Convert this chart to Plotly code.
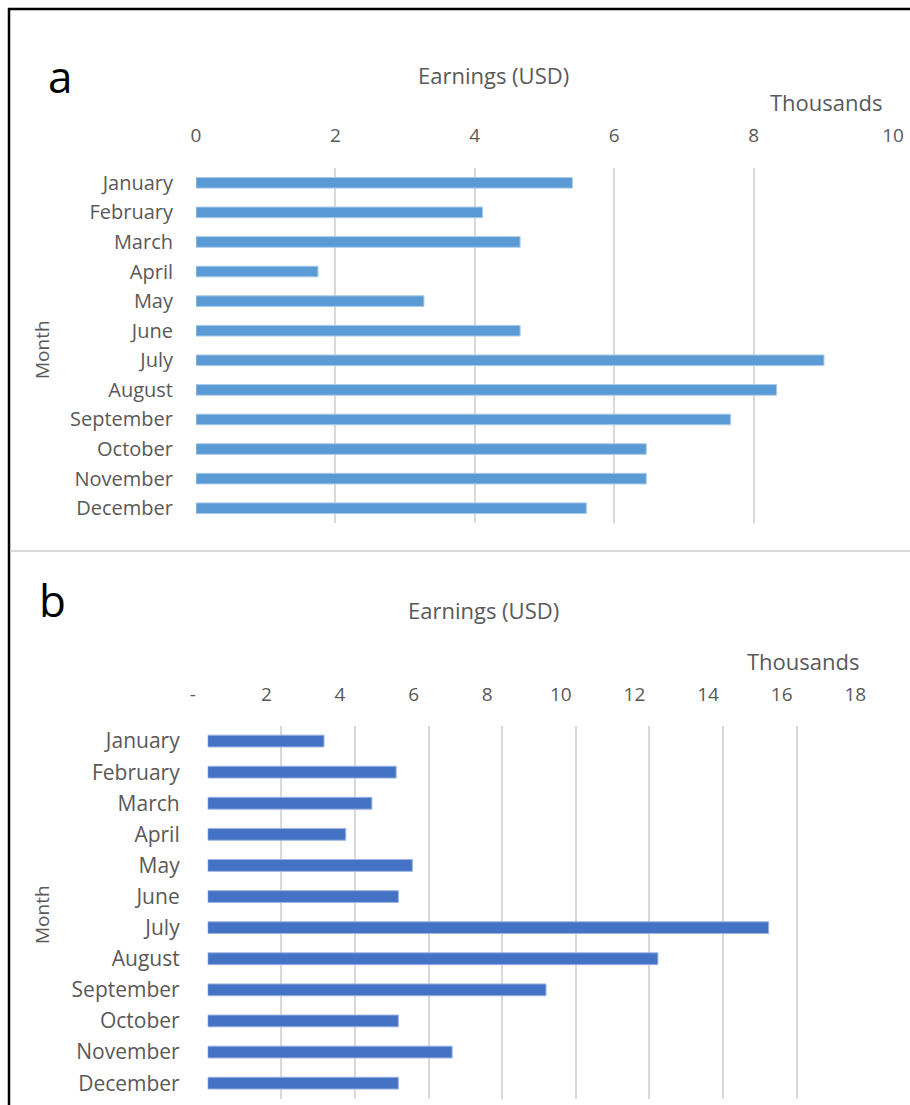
import plotly.graph_objects as go

# Monthly earnings, thousands of USD
months = ["January", "February", "March", "April", "May", "June",
          "July", "August", "September", "October", "November", "December"]
earnings_a = [5.40, 4.11, 4.65, 1.75, 3.27, 4.65, 9.01, 8.33, 7.67, 6.46, 6.46, 5.60]
earnings_b = [3.16, 5.12, 4.46, 3.75, 5.56, 5.18, 15.24, 12.23, 9.19, 5.18, 6.64, 5.18]

ticks_a = [0, 2, 4, 6, 8, 10]
ticks_b = [0, 2, 4, 6, 8, 10, 12, 14, 16, 18]
ticklabels_b = ["-", "2", "4", "6", "8", "10", "12", "14", "16", "18"]

W, H = 910, 1105
FONT = "Open Sans"
TXT = "#595959"
GRID = "#D9D9D9"


def px_x(p):
    return p / W


def px_y(p):
    return 1 - p / H


fig = go.Figure()

fig.add_trace(go.Bar(
    x=earnings_a, y=months, orientation="h",
    marker=dict(color="#5B9BD5", line=dict(color="#A9CBEA", width=1)),
    xaxis="x", yaxis="y", showlegend=False, width=0.36,
))
fig.add_trace(go.Bar(
    x=earnings_b, y=months, orientation="h",
    marker=dict(color="#4472C4", line=dict(color="#9DB5E2", width=1)),
    xaxis="x2", yaxis="y2", showlegend=False, width=0.38,
))

tick_font = dict(family=FONT, size=19, color=TXT)
month_font_a = dict(family=FONT, size=20, color=TXT)
month_font_b = dict(family=FONT, size=21, color=TXT)

fig.update_layout(
    width=W, height=H,
    margin=dict(l=0, r=0, t=0, b=0, autoexpand=False),
    paper_bgcolor="white", plot_bgcolor="white",
    font=dict(family=FONT, color=TXT),
    xaxis=dict(
        domain=[px_x(196), px_x(893)], range=[0, 10], side="top",
        anchor="y", tickvals=ticks_a, showgrid=True, gridcolor=GRID, gridwidth=1.5,
        zeroline=False, showline=False, ticks="", tickfont=tick_font,
        ticklabelstandoff=21, automargin=False,
    ),
    yaxis=dict(
        domain=[px_y(523), px_y(168)], anchor="x",
        categoryorder="array", categoryarray=months, autorange="reversed",
        showgrid=False, zeroline=False, showline=False, ticks="",
        tickfont=month_font_a, ticklabelstandoff=22, automargin=False,
    ),
    xaxis2=dict(
        domain=[px_x(207.7), px_x(870.3)], range=[0, 18], side="top",
        anchor="y2", tickvals=ticks_b, ticktext=ticklabels_b,
        showgrid=True, gridcolor=GRID, gridwidth=1.5,
        zeroline=False, showline=False, ticks="", tickfont=tick_font,
        ticklabelstandoff=20, ticklabelshift=-15, automargin=False,
    ),
    yaxis2=dict(
        domain=[px_y(1098.7), px_y(725.5)], anchor="x2",
        categoryorder="array", categoryarray=months, autorange="reversed",
        showgrid=False, zeroline=False, showline=False, ticks="",
        tickfont=month_font_b, ticklabelstandoff=27, automargin=False,
    ),
)

ann = []


def label(text, x, y, size, color=TXT, angle=0):
    ann.append(dict(text=text, x=px_x(x), y=px_y(y), xref="paper", yref="paper",
                    showarrow=False, xanchor="center", yanchor="middle",
                    textangle=angle, font=dict(family=FONT, size=size, color=color)))


# panel letters
label("a", 60, 76, 44, "#000000")
label("b", 52, 600, 44, "#000000")
# axis titles
label("Earnings (USD)", 494, 75, 22)
label("Thousands", 826, 102, 22)
label("Month", 42, 350, 19, angle=-90)
label("Earnings (USD)", 483, 610, 22)
label("Thousands", 803, 661, 22)
label("Month", 42, 915, 19, angle=-90)
fig.update_layout(annotations=ann)

# frame and divider
fig.add_shape(type="line", xref="paper", yref="paper",
              x0=px_x(8), x1=1, y0=px_y(9), y1=px_y(9),
              line=dict(color="#000000", width=2.5))
fig.add_shape(type="line", xref="paper", yref="paper",
              x0=px_x(9), x1=px_x(9), y0=px_y(8), y1=0,
              line=dict(color="#000000", width=2.5))
fig.add_shape(type="line", xref="paper", yref="paper",
              x0=px_x(10), x1=1, y0=px_y(551), y1=px_y(551),
              line=dict(color="#D9D9D9", width=2))

fig.write_html("out.html")
